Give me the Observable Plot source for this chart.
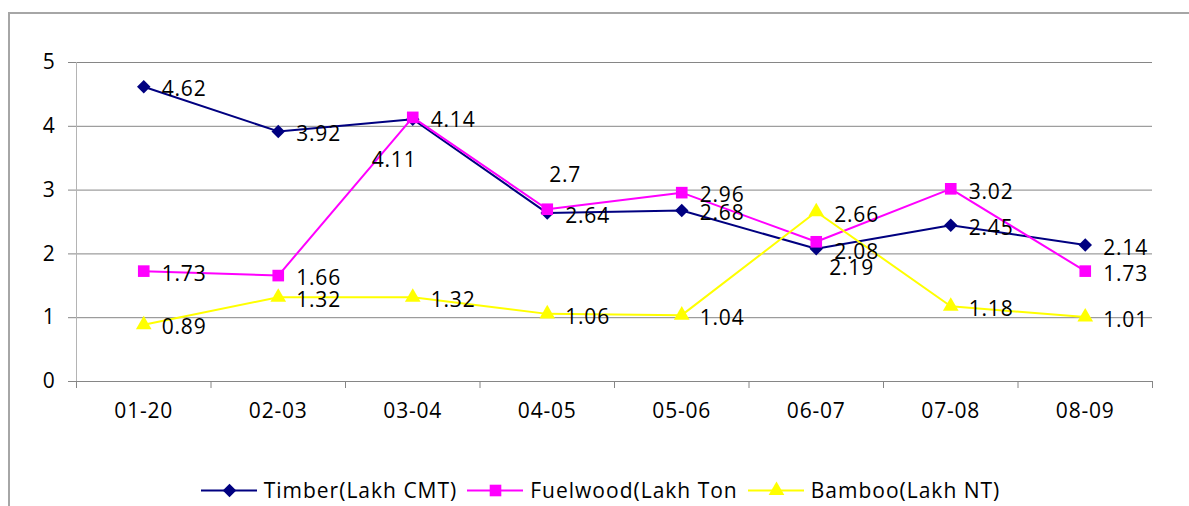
<!DOCTYPE html>
<html>
<head>
<meta charset="utf-8">
<script src="https://cdn.jsdelivr.net/npm/d3@7"></script>
<script src="https://cdn.jsdelivr.net/npm/@observablehq/plot@0.6"></script>
<style>
  html, body { margin: 0; padding: 0; background: #fff; overflow: hidden; width: 1189px; height: 506px; }
  body { font-family: "Open Sans", sans-serif; }
  #frame { position: absolute; left: 8px; top: 12px; width: 1181px; height: 494px;
           border-top: 2px solid #a6a6a6; border-left: 2px solid #a6a6a6; box-sizing: border-box; }
  #chart { position: absolute; left: 0; top: 0; }
  #legend { position: absolute; left: 0; top: 476px; width: 1189px; height: 28px;
            display: flex; justify-content: center; align-items: center; padding-left: 12px; box-sizing: border-box;
            font: 21px "Open Sans", sans-serif; letter-spacing: 1px; color: #000; }
  .item { display: flex; align-items: center; margin: 0 5px; }
  .item svg { margin-right: 7px; }
</style>
</head>
<body>
<div id="frame"></div>
<div id="chart"></div>
<div id="legend"></div>
<script>
// Harvest by year (Lakh units)
const categories = ["01-20", "02-03", "03-04", "04-05", "05-06", "06-07", "07-08", "08-09"];
const timber   = [4.62, 3.92, 4.11, 2.64, 2.68, 2.08, 2.45, 2.14];
const fuelwood = [1.73, 1.66, 4.14, 2.7, 2.96, 2.19, 3.02, 1.73];
const bamboo   = [0.89, 1.32, 1.32, 1.06, 1.04, 2.66, 1.18, 1.01];
const seriesNames = ["Timber(Lakh CMT)", "Fuelwood(Lakh Ton", "Bamboo(Lakh NT)"];
const yTicks = [0, 1, 2, 3, 4, 5];

const seriesValues = [timber, fuelwood, bamboo];
const colors = ["#000080", "#ff00ff", "#ffff00"];
const symbols = ["diamond2", "square2", "triangle2"];
const sizes = [6.1, 7.4, 7.5];

const rows = seriesNames.flatMap((name, s) =>
  seriesValues[s].map((value, i) => ({ s, name, i, value }))
);

// Hand-placed label offsets for crowded points: "series|index" -> [dx, dy]
const labelNudge = {
  "0|2": [-41, 41],
  "1|3": [2, -34],
  "1|5": [13, 26]
};
const nudgeOf = d => labelNudge[`${d.s}|${d.i}`] || [18, 3];
const nudgeGroups = d3.groups(rows, d => nudgeOf(d).join(","));

const xc = d => d.i + 0.5;
const font = "Open Sans";

const marks = [
  Plot.gridY(yTicks.filter(t => t > 0), { stroke: "#868686", strokeOpacity: 1 }),
  Plot.ruleY([0], { stroke: "#868686" }),
  Plot.ruleX([0], { stroke: "#b4b4b4" }),
  // y axis ticks and labels
  Plot.axisY({ ticks: yTicks, tickFormat: d3.format("d"), label: null, tickSize: 8, tickPadding: 13, stroke: "#868686", fontSize: 21, fill: "#000" }),
  // category boundary ticks
  Plot.axisX({ ticks: d3.range(0, categories.length + 1), label: null, tickSize: 7, tickFormat: () => "", stroke: "#868686" }),
  // category labels centred in each band
  Plot.axisX({
    ticks: d3.range(categories.length).map(i => i + 0.5), label: null,
    tickSize: 0, tickPadding: 22, fontSize: 21, fill: "#000",
    tickFormat: v => categories[Math.floor(v)]
  })
];

seriesNames.forEach((name, s) => {
  const data = rows.filter(d => d.s === s);
  marks.push(Plot.line(data, { x: xc, y: "value", stroke: colors[s], strokeWidth: 2 }));
  marks.push(Plot.dot(data, { x: xc, y: "value", symbol: () => symbols[s], fill: colors[s], stroke: "none", r: sizes[s] }));
});

nudgeGroups.forEach(([key, data]) => {
  const [dx, dy] = key.split(",").map(Number);
  marks.push(Plot.text(data, {
    x: xc, y: "value", text: d => String(d.value),
    textAnchor: "start", dx, dy, fontSize: 21, fill: "#000"
  }));
});

const chart = Plot.plot({
  width: 1189,
  height: 440,
  marginLeft: 76,
  marginRight: 37,
  marginTop: 62,
  marginBottom: 59,
  style: { fontFamily: font, fontSize: "21px", background: "transparent", letterSpacing: "0.8px" },
  x: { type: "linear", domain: [0, categories.length], axis: null },
  y: { domain: [0, 5], axis: null },
  symbol: { type: "identity" },
  marks
});
document.getElementById("chart").appendChild(chart);

// Legend
const legend = document.getElementById("legend");
seriesNames.forEach((name, s) => {
  const item = document.createElement("div");
  item.className = "item";
  const sw = Plot.plot({
    width: 56, height: 24, margin: 0,
    x: { domain: [0, 1], axis: null }, y: { domain: [0, 1], axis: null },
    symbol: { type: "identity" },
    style: { background: "transparent" },
    marks: [
      Plot.ruleY([0.5], { x1: 0, x2: 1, stroke: colors[s], strokeWidth: 2 }),
      Plot.dot([0.5], { x: 0.5, y: 0.5, symbol: () => symbols[s], fill: colors[s], r: sizes[s] })
    ]
  });
  item.appendChild(sw);
  const label = document.createElement("span");
  label.textContent = name;
  item.appendChild(label);
  legend.appendChild(item);
});
</script>
</body>
</html>
